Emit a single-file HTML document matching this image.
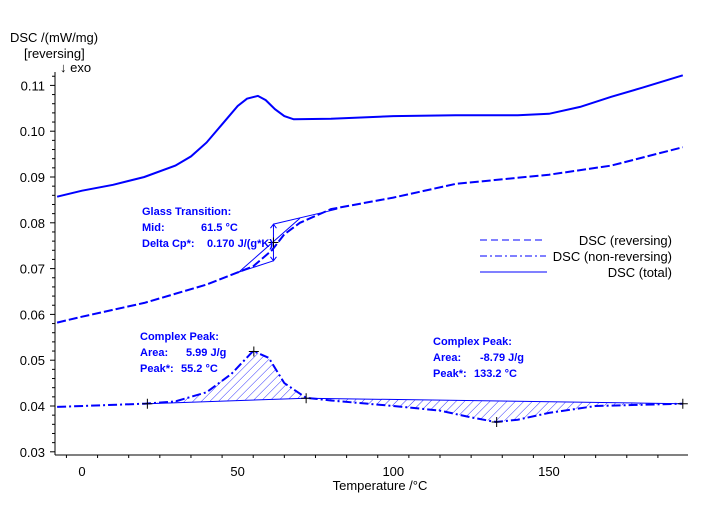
<!DOCTYPE html>
<html><head><meta charset="utf-8"><style>
body{margin:0;background:#fff}
svg{display:block;font-family:"Liberation Sans",sans-serif}
.ann{font-weight:bold;fill:#0000ff;font-size:11px}
</style></head><body>
<svg id="c" width="705" height="508" viewBox="0 0 705 508">
<defs>
<pattern id="hatch" patternUnits="userSpaceOnUse" width="6" height="6" patternTransform="rotate(45)">
<line x1="0" y1="0" x2="0" y2="6" stroke="#0000ff" stroke-width="0.8"/>
</pattern>
</defs>
<g id="axes"></g>
<g id="marks"></g>
<text x="10" y="42" font-size="13" fill="#000">DSC /(mW/mg)</text>
<text x="24" y="58" font-size="13" fill="#000">[reversing]</text>
<text x="60" y="72" font-size="13" fill="#000">↓ exo</text>
<text x="380" y="490" font-size="13" text-anchor="middle" fill="#000">Temperature /°C</text>
<g>
<text class="ann" x="142" y="215">Glass Transition:</text>
<text class="ann" x="142" y="231">Mid:</text><text class="ann" x="201" y="231">61.5 °C</text>
<text class="ann" x="142" y="247">Delta Cp*:</text><text class="ann" x="207" y="247">0.170 J/(g*K)</text>
</g>
<g>
<text class="ann" x="140" y="340">Complex Peak:</text>
<text class="ann" x="140" y="356">Area:</text><text class="ann" x="186" y="356">5.99 J/g</text>
<text class="ann" x="140" y="372">Peak*:</text><text class="ann" x="181" y="372">55.2 °C</text>
</g>
<g>
<text class="ann" x="433" y="345">Complex Peak:</text>
<text class="ann" x="433" y="361">Area:</text><text class="ann" x="480" y="361">-8.79 J/g</text>
<text class="ann" x="433" y="377">Peak*:</text><text class="ann" x="474" y="377">133.2 °C</text>
</g>
<g font-size="13">
<g><line x1="480" y1="240" x2="545" y2="240" stroke="#0000ff" stroke-dasharray="7,4"/><text x="672" y="245" text-anchor="end">DSC (reversing)</text></g>
<g><line x1="480" y1="256" x2="546" y2="256" stroke="#0000ff" stroke-dasharray="7,3,2,3"/><text x="672" y="261" text-anchor="end">DSC (non-reversing)</text></g>
<g><line x1="480" y1="272" x2="547" y2="272" stroke="#0000ff"/><text x="672" y="277" text-anchor="end">DSC (total)</text></g>
</g>
</svg>
<script>
const totalT=[-8,0,10,20,30,35,40,45,50,53,56.5,59,62,65,68,80,100,120,140,150,160,170,180,193];
const totalV=[0.0857,0.0870,0.0883,0.0900,0.0925,0.0945,0.0975,0.1015,0.1055,0.1071,0.1077,0.1068,0.1048,0.1033,0.1026,0.1027,0.1033,0.1035,0.1035,0.1038,0.1053,0.1075,0.1095,0.1122];
const revT=[-8,0,20,40,55,61,65,70,80,100,120,150,170,193];
const revV=[0.0582,0.0595,0.0625,0.0665,0.0705,0.0740,0.0775,0.0800,0.0830,0.0855,0.0885,0.0905,0.0925,0.0965];
const nrT=[-8,20,30,40,48,55,60,65,72,80,100,115,125,133,140,150,165,193];
const nrV=[0.0398,0.0405,0.0410,0.0430,0.0470,0.0520,0.0505,0.0450,0.0418,0.0412,0.0400,0.0390,0.0375,0.0365,0.0370,0.0385,0.0400,0.0405];
const yTicks=[0.03,0.04,0.05,0.06,0.07,0.08,0.09,0.10,0.11];
const yTickLabels=["0.03","0.04","0.05","0.06","0.07","0.08","0.09","0.10","0.11"];
const xTicks=[0,50,100,150];
const xTickLabels=["0","50","100","150"];

const NS="http://www.w3.org/2000/svg";
const sx=t=>82+(t-0)*3.113;
const sy=v=>406-(v-0.04)*4580;
const axes=document.getElementById('axes'),marks=document.getElementById('marks');
function mk(tag,attrs,parent){const e=document.createElementNS(NS,tag);for(const k in attrs)e.setAttribute(k,attrs[k]);parent.appendChild(e);return e;}
// axes
const ya=mk('line',{x1:55,y1:72,x2:55,y2:455,stroke:'#000'},axes);


const xa=mk('line',{x1:55,y1:455,x2:688,y2:455,stroke:'#000'},axes);


yTicks.forEach((v,i)=>{
  mk('line',{x1:50,y1:sy(v),x2:55,y2:sy(v),stroke:'#000'},axes);
  for(let k=1;k<5;k++){const yy=sy(v+k*0.002);if(yy>72)mk('line',{x1:52,y1:yy,x2:55,y2:yy,stroke:'#000'},axes);}
  const t=mk('text',{x:45,y:sy(v)+5,'text-anchor':'end','font-size':13},axes);
  t.textContent=yTickLabels[i];
  
  
});
for(let t=-5;t<=190;t+=10){mk('line',{x1:sx(t),y1:455,x2:sx(t),y2:t%50===0?461:458,stroke:'#000'},axes);}
xTicks.forEach((t,i)=>{
  const e=mk('text',{x:sx(t),y:476,'text-anchor':'middle','font-size':13},axes);
  e.textContent=xTickLabels[i];
  
  
});
const pts=(T,V)=>T.map((t,i)=>sx(t).toFixed(1)+','+sy(V[i]).toFixed(1)).join(' ');
function interp(T,V,t){for(let i=0;i<T.length-1;i++){if(t>=T[i]&&t<=T[i+1])return V[i]+(V[i+1]-V[i])*(t-T[i])/(T[i+1]-T[i]);}return V[V.length-1];}
// hatched peaks
function hatch(t0,t1,b0,b1,name){
  const p=[];
  for(let t=t0;t<=t1+0.01;t+=1)p.push(sx(t)+','+sy(interp(nrT,nrV,t)));
  p.push(sx(t1)+','+sy(b1));p.push(sx(t0)+','+sy(b0));
  const e=mk('polygon',{points:p.join(' '),fill:'url(#hatch)',stroke:'none'},marks);
  
  
  mk('line',{x1:sx(t0),y1:sy(b0),x2:sx(t1),y2:sy(b1),stroke:'#0000ff'},marks);
}
hatch(21,72,0.0405,0.0417,'peak-area-1');
hatch(72,193,0.0417,0.0405,'peak-area-2');
// series
const lt=mk('polyline',{points:pts(totalT,totalV),fill:'none',stroke:'#0000ff','stroke-width':2},marks);


const lr=mk('polyline',{points:pts(revT,revV),fill:'none',stroke:'#0000ff','stroke-width':2,'stroke-dasharray':'9,3'},marks);


const ln=mk('polyline',{points:pts(nrT,nrV),fill:'none',stroke:'#0000ff','stroke-width':2,'stroke-dasharray':'9,3,2,3'},marks);


// glass transition construction
const g=document.createElementNS(NS,'g');marks.appendChild(g);


mk('line',{x1:sx(48),y1:sy(0.0687),x2:sx(61.5),y2:sy(0.0717),stroke:'#0000ff'},g);
mk('line',{x1:sx(61.5),y1:sy(0.0797),x2:sx(82),y2:sy(0.0830),stroke:'#0000ff'},g);
mk('line',{x1:sx(50),y1:sy(0.0690),x2:sx(70),y2:sy(0.0810),stroke:'#0000ff'},g);
mk('line',{x1:sx(61.5),y1:sy(0.0797),x2:sx(61.5),y2:sy(0.0717),stroke:'#0000ff'},g);
mk('path',{d:`M${sx(61.5)-3},${sy(0.0797)+4} L${sx(61.5)},${sy(0.0797)} L${sx(61.5)+3},${sy(0.0797)+4} M${sx(61.5)-3},${sy(0.0717)-4} L${sx(61.5)},${sy(0.0717)} L${sx(61.5)+3},${sy(0.0717)-4}`,fill:'none',stroke:'#0000ff'},g);
// markers
function cross(t,v){mk('path',{d:`M${sx(t)-5},${sy(v)} h10 M${sx(t)},${sy(v)-5} v10`,stroke:'#000'},marks);}
cross(61.5,0.0757);cross(21,0.0405);cross(55.2,0.0519);cross(72,0.0417);cross(133.2,0.0365);cross(193,0.0405);
</script>
</body></html>
